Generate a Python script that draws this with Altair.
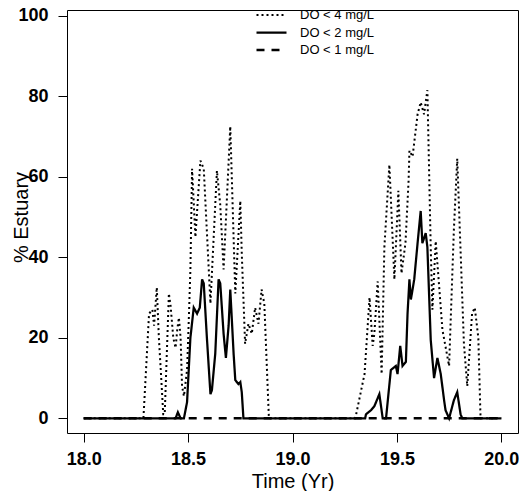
import altair as alt
import pandas as pd

labels = ["DO < 4 mg/L", "DO < 2 mg/L", "DO < 1 mg/L"]

# DO < 4 mg/L  (dotted)
t4 = [18.0, 18.286, 18.313, 18.329, 18.337, 18.350, 18.360, 18.369, 18.381, 18.388,
      18.408, 18.416, 18.429, 18.440, 18.448, 18.456, 18.464, 18.471, 18.480, 18.495,
      18.503, 18.511, 18.519, 18.535, 18.559, 18.575, 18.607, 18.638, 18.654, 18.670,
      18.702, 18.726, 18.750, 18.757, 18.773, 18.789, 18.805, 18.821, 18.837, 18.852,
      18.865, 18.887, 19.300, 19.305, 19.329, 19.345, 19.369, 19.384, 19.392, 19.408,
      19.427, 19.440, 19.464, 19.488, 19.507, 19.522, 19.541, 19.556, 19.560, 19.575,
      19.599, 19.614, 19.630, 19.646, 19.662, 19.670, 19.686, 19.718, 19.750, 19.773,
      19.789, 19.821, 19.837, 19.860, 19.873, 19.890, 19.900, 19.903, 20.0]
v4 = [0, 0, 26, 27, 23, 32.5, 20, 12, 1, 1,
      31, 28, 20, 17.5, 22, 25, 20, 8, 5.5, 12,
      24, 37, 62, 45, 64, 62, 28.5, 61.5, 53, 37,
      72.5, 31, 54, 41, 18.5, 23.5, 21, 27.5, 23.5, 32,
      28.5, 0, 0, 1, 7, 11, 30, 18, 21, 34,
      11, 42.5, 63, 34.5, 56.5, 36, 43.5, 59, 66.5, 65,
      75.5, 78.5, 75.5, 81.5, 42.5, 27, 44, 22, 13, 47,
      64.5, 18.5, 8, 26, 27.5, 20, 1, 0, 0]

# DO < 2 mg/L  (solid)
t2 = [18.0, 18.440, 18.451, 18.464, 18.480, 18.495, 18.511, 18.527, 18.543, 18.556,
      18.567, 18.575, 18.590, 18.607, 18.614, 18.630, 18.646, 18.654, 18.670, 18.681,
      18.694, 18.702, 18.718, 18.726, 18.741, 18.750, 18.757, 18.765, 19.348, 19.352,
      19.376, 19.392, 19.416, 19.432, 19.448, 19.471, 19.495, 19.503, 19.516, 19.527,
      19.543, 19.551, 19.560, 19.567, 19.583, 19.599, 19.614, 19.622, 19.638, 19.646,
      19.662, 19.678, 19.694, 19.710, 19.726, 19.733, 19.750, 19.773, 19.789, 19.805,
      19.813, 20.0]
v2 = [0, 0, 1.5, 0, 0, 4, 20, 27.5, 26, 27.5,
      34.5, 33.5, 20, 6, 7, 16, 34.5, 33.5, 21, 15,
      23, 32, 16, 9.5, 8.5, 9, 6.5, 0, 0, 1,
      2, 3, 6, 0, 0, 12, 13, 11, 18, 13,
      14, 26, 34.5, 29.5, 34.5, 43.5, 51.5, 43.5, 46, 42.5,
      19.5, 10, 15, 11, 4.5, 2, 0, 4.5, 6.5, 1,
      0, 0]

# DO < 1 mg/L  (dashed)
t1 = [18.0, 20.0]
v1 = [0, 0]

x_ticks = [18.0, 18.5, 19.0, 19.5, 20.0]
y_ticks = [0, 20, 40, 60, 80, 100]

df = pd.concat([
    pd.DataFrame({"t": t1, "v": v1, "s": labels[2]}),
    pd.DataFrame({"t": t4, "v": v4, "s": labels[0]}),
    pd.DataFrame({"t": t2, "v": v2, "s": labels[1]}),
], ignore_index=True)

FONT = "Liberation Sans"

legend = alt.Legend(
    title=None, orient="none", legendX=198, legendY=-1.5,
    symbolType="M-3,0H3", symbolSize=100, symbolStrokeColor="black",
    labelOffset=22, labelFontSize=13, labelFont=FONT, labelColor="black",
    rowPadding=3.5, padding=0,
)

chart = alt.Chart(df).mark_line(color="black").encode(
    x=alt.X("t:Q",
            scale=alt.Scale(domain=[17.92, 20.08], nice=False, zero=False),
            axis=alt.Axis(values=x_ticks, format=".1f", title="Time (Yr)",
                          labelPadding=8, titleY=54, titleBaseline="alphabetic")),
    y=alt.Y("v:Q",
            scale=alt.Scale(domain=[-3.65, 101.42], nice=False, zero=False),
            axis=alt.Axis(values=y_ticks, title="% Estuary", labelPadding=10,
                          titleX=-40, titleY=207, titleAngle=270,
                          titleBaseline="alphabetic", titleAlign="center")),
    strokeDash=alt.StrokeDash("s:N", scale=alt.Scale(domain=labels, range=[[2, 3], [1, 0], [8, 7]]),
                              legend=legend),
    strokeWidth=alt.StrokeWidth("s:N", scale=alt.Scale(domain=labels, range=[2, 2.5, 2.5]),
                                legend=legend),
).properties(
    width=451, height=423,
    autosize=alt.AutoSizeParams(type="none"),
    padding={"left": 59, "top": 2, "right": 1, "bottom": 58},
).configure_view(
    stroke="black", strokeWidth=1
).configure_axis(
    domain=False, grid=False, ticks=True, tickSize=9, tickColor="black", tickWidth=1,
    labelFont=FONT, labelFontSize=18, labelFontWeight="bold", labelColor="black",
    titleFont=FONT, titleFontSize=20, titleFontWeight="normal", titleColor="black",
)

chart.save("out.html", embed_options={"renderer": "svg", "actions": False})
